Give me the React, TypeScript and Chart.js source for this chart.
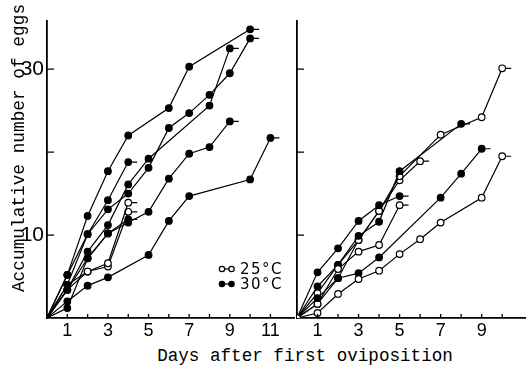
import React, { useEffect, useRef } from 'react';
import { Chart, registerables } from 'chart.js';
Chart.register(...registerables);

// ---------- data ----------
const leftDays = [0, 1, 2, 3, 4, 5, 6, 7, 8, 9, 10, 11];
const leftA = [0, 5.2, 12.3, 17.7, 22.0, null, 25.3, 30.3, null, null, 34.8];
const leftB = [0, 4.0, 10.1, 13.1, 15.0, 18.1, 22.9, 24.7, 26.9, 29.5, 33.7];
const leftC = [0, 3.4, 8.0, 11.2, 16.1, 19.2, null, null, 25.6, 32.5];
const leftD = [0, 3.4, 7.2, 10.2, 11.5, 12.8, 16.8, 19.8, 20.6, 23.7];
const leftE = [0, 2.0, 3.9, 4.9, null, 7.6, 11.7, 14.7, null, null, 16.7, 21.7];
const leftF = [0, 5.2, 10.1, 14.2, 18.8];
const leftG = [0, 4.0, 5.6, 6.6, 13.9];
const leftH = [0, 3.4, 5.6, 6.2, 12.8];
const leftI = [0, 1.2, 7.2, 10.2, 11.9];
const leftSeries = [leftA, leftB, leftC, leftD, leftE, leftF, leftG, leftH, leftI];
const leftOpen = [false, false, false, false, false, false, true, true, false];

const rightDays = [0, 1, 2, 3, 4, 5, 6, 7, 8, 9, 10];
const rightA = [0, 0.6, 2.9, 4.7, 5.7, 7.7, 9.5, 11.5, null, 14.5, 19.5];
const rightB = [0, 2.4, 4.8, 5.4, 7.3, null, null, 14.5, 17.4, 20.4];
const rightC = [0, 1.7, 5.9, 8.0, 8.8, 13.6];
const rightD = [0, 3.8, 6.4, 9.9, 11.6, 17.7, null, null, 23.4];
const rightE = [0, 5.5, 8.4, 11.7, 13.6, 14.7];
const rightF = [0, 3.0, 6.4, 9.4, 12.9, 17.1, null, 22.1, null, 24.2, 30.1];
const rightG = [0, 1.7, 4.8, 9.4, 12.9, 16.6, 18.9];
const rightSeries = [rightA, rightB, rightC, rightD, rightE, rightF, rightG];
const rightOpen = [true, false, true, false, false, true, true];

const xLabelsLeft = [1, 3, 5, 7, 9, 11];
const xLabelsRight = [1, 3, 5, 7, 9];
const xTicksLeft = [1, 2, 3, 4, 5, 6, 7, 8, 9, 10, 11];
const xTicksRight = [1, 2, 3, 4, 5, 6, 7, 8, 9, 10];
const yLabels = [10, 30];
const yTicks = [10, 20, 30];
const legendLabels = ['25°C', '30°C'];
const yTitle = 'Accumulative number of eggs';
const xTitle = 'Days after first oviposition';

// ---------- helpers ----------
function makeDatasets(days: number[], series: (number | null)[][], open: boolean[]) {
  return series.map((vals, i) => ({
    data: vals
      .map((v, j) => (v == null ? null : { x: days[j], y: v }))
      .filter((p) => p !== null),
    borderColor: '#000',
    borderWidth: 1.2,
    pointRadius: 3.3,
    pointBorderWidth: 1.2,
    pointBorderColor: '#000',
    pointBackgroundColor: open[i] ? '#fff' : '#000',
    showLine: true,
    fill: false,
    tension: 0,
  }));
}

function ticksPlugin(xt: number[], yt: number[]) {
  return {
    id: 'inTicks',
    afterDatasetsDraw(chart: any) {
      const { ctx } = chart;
      const x = chart.scales.x;
      const y = chart.scales.y;
      ctx.save();
      ctx.strokeStyle = '#000';
      ctx.lineWidth = 1.3;
      ctx.beginPath();
      xt.forEach((d) => {
        const px = x.getPixelForValue(d);
        ctx.moveTo(px, y.bottom);
        ctx.lineTo(px, y.bottom - 4);
      });
      yt.forEach((v) => {
        const py = y.getPixelForValue(v);
        ctx.moveTo(x.left, py);
        ctx.lineTo(x.left + 7, py);
      });
      ctx.stroke();
      ctx.lineWidth = 1.2;
      ctx.beginPath();
      chart.data.datasets.forEach((_ds: any, i: number) => {
        const meta = chart.getDatasetMeta(i);
        const pt = meta.data[meta.data.length - 1];
        if (!pt) return;
        ctx.moveTo(pt.x + 3.3, pt.y);
        ctx.lineTo(pt.x + 9, pt.y);
      });
      ctx.stroke();
      ctx.restore();
    },
  };
}

const leftDecor = {
  id: 'leftDecor',
  afterDraw(chart: any) {
    const { ctx } = chart;
    ctx.save();
    ctx.fillStyle = '#000';
    ctx.translate(19, 148);
    ctx.rotate(-Math.PI / 2);
    ctx.font = '17.8px "Liberation Mono", "DejaVu Sans Mono", monospace';
    ctx.textAlign = 'center';
    ctx.textBaseline = 'middle';
    ctx.fillText(yTitle, 0, 0);
    ctx.restore();

    // legend
    ctx.save();
    const rows = [269, 284];
    rows.forEach((ry, i) => {
      ctx.strokeStyle = '#000';
      ctx.lineWidth = 1.2;
      ctx.beginPath();
      ctx.moveTo(222, ry);
      ctx.lineTo(231.5, ry);
      ctx.stroke();
      [222, 231.5].forEach((cx) => {
        ctx.beginPath();
        ctx.arc(cx, ry, 2.7, 0, Math.PI * 2);
        ctx.fillStyle = i === 0 ? '#fff' : '#000';
        ctx.fill();
        ctx.stroke();
      });
      ctx.fillStyle = '#000';
      ctx.font = '15px "DejaVu Sans", sans-serif';
      (ctx as any).letterSpacing = '1.5px';
      ctx.textAlign = 'left';
      ctx.textBaseline = 'middle';
      ctx.fillText(legendLabels[i], 240, ry + 1);
    });
    ctx.restore();
  },
};

function baseOptions(xMax: number, labelsX: number[], yWidth: number, showY: boolean, padRight: number) {
  return {
    animation: false,
    responsive: false,
    maintainAspectRatio: false,
    layout: { padding: { top: 21, right: padRight, left: 0, bottom: 0 } },
    plugins: { legend: { display: false }, tooltip: { enabled: false }, title: { display: false } },
    scales: {
      x: {
        type: 'linear',
        min: 0,
        max: xMax,
        afterFit: (s: any) => {
          s.height = 27;
        },
        grid: { display: true, drawOnChartArea: false, drawTicks: false },
        border: { display: true, color: '#000', width: 1.8 },
        ticks: {
          stepSize: 1,
          autoSkip: false,
          maxRotation: 0,
          padding: 2,
          color: '#000',
          font: { size: 18, family: '"Liberation Sans Narrow", "Liberation Sans", sans-serif' },
          callback: (v: number) => (labelsX.includes(v) ? String(v) : ''),
        },
      },
      y: {
        type: 'linear',
        min: 0,
        max: 35.8,
        afterFit: (s: any) => {
          s.width = yWidth;
        },
        grid: { display: true, drawOnChartArea: false, drawTicks: false },
        border: { display: true, color: '#000', width: 1.8 },
        ticks: {
          display: showY,
          stepSize: 10,
          autoSkip: false,
          padding: 3,
          color: '#000',
          font: { size: 21, family: '"Liberation Sans Narrow", "Liberation Sans", sans-serif' },
          callback: (v: number) => (yLabels.includes(v) ? String(v) : ''),
        },
      },
    },
  };
}

export default function App() {
  const leftRef = useRef<HTMLCanvasElement | null>(null);
  const rightRef = useRef<HTMLCanvasElement | null>(null);

  useEffect(() => {
    const left = new Chart(leftRef.current as HTMLCanvasElement, {
      type: 'line',
      data: { datasets: makeDatasets(leftDays, leftSeries, leftOpen) as any },
      options: baseOptions(12.2, xLabelsLeft, 47, true, 3) as any,
      plugins: [ticksPlugin(xTicksLeft, yTicks), leftDecor],
    });
    const right = new Chart(rightRef.current as HTMLCanvasElement, {
      type: 'line',
      data: { datasets: makeDatasets(rightDays, rightSeries, rightOpen) as any },
      options: baseOptions(11.15, xLabelsRight, 10, false, 2) as any,
      plugins: [ticksPlugin(xTicksRight, yTicks)],
    });
    return () => {
      left.destroy();
      right.destroy();
    };
  }, []);

  return (
    <div style={{ position: 'absolute', left: 0, top: 0, width: 531, height: 372, background: '#fff', overflow: 'hidden' }}>
      <canvas
        ref={leftRef}
        width={300}
        height={345}
        style={{ position: 'absolute', left: 0, top: 0, width: 300, height: 345 }}
      />
      <canvas
        ref={rightRef}
        width={244}
        height={345}
        style={{ position: 'absolute', left: 287, top: 0, width: 244, height: 345 }}
      />
      <div
        style={{
          position: 'absolute',
          left: 155,
          top: 346,
          width: 300,
          textAlign: 'center',
          fontFamily: '"Liberation Mono", "DejaVu Sans Mono", monospace',
          fontSize: 17.6,
          lineHeight: '20px',
          color: '#000',
          whiteSpace: 'nowrap',
        }}
      >
        {xTitle}
      </div>
    </div>
  );
}
